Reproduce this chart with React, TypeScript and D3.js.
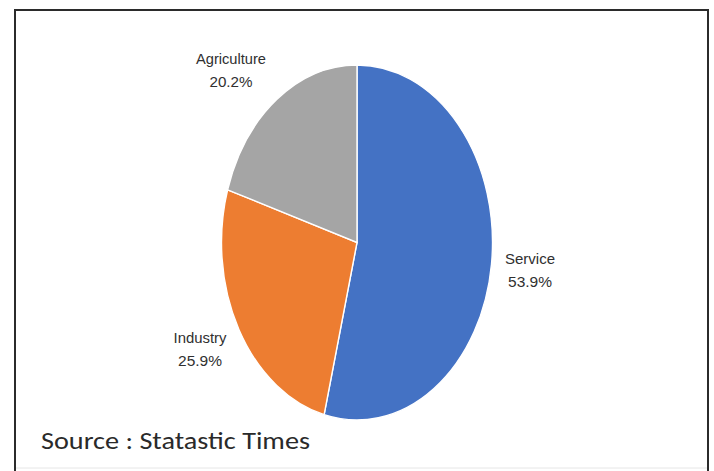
import React from "react";
import * as d3 from "d3";

const categories = ["Service", "Industry", "Agriculture"];
const values = [53.9, 25.9, 20.2];
const colors = ["#4472C4", "#ED7D31", "#A5A5A5"];
const labelTexts = ["53.9%", "25.9%", "20.2%"];
const sourceText = "Source : Statastic Times";

const W = 714;
const H = 471;

export default function App() {
  const cx = 357;
  const cy = 242.5;
  const rx = 135.5;
  const ry = 177.5;
  const sy = ry / rx;

  const pie = d3.pie<number>().sort(null).value((d) => d);
  const arcs = pie(values);
  const arc = d3.arc<d3.PieArcDatum<number>>().innerRadius(0).outerRadius(rx);

  const labelPos = [
    { x: 530, y: 264 },
    { x: 200, y: 343 },
    { x: 231, y: 64 },
  ];
  const nameWidths = [50, 53, 70];
  const pctWidths = [44, 44, 43];

  return (
    <div style={{ position: "absolute", left: 0, top: 0 }}>
      <svg width={W} height={H} style={{ display: "block" }}>
        <rect x={0} y={0} width={W} height={H} fill="#ffffff" />
        <rect x={15} y={10} width={693} height={470} fill="#ffffff" stroke="#2b2b2b" strokeWidth={2} />
        <line x1={16} x2={707} y1={468} y2={468} stroke="#e6e6e6" strokeWidth={1} />
        <g transform={`translate(${cx},${cy}) scale(1,${sy})`}>
          {arcs.map((a, i) => (
            <path
              key={categories[i]}
              d={arc(a) as string}
              fill={colors[i]}
              stroke="#ffffff"
              strokeWidth={1.4}
              vectorEffect="non-scaling-stroke"
            />
          ))}
        </g>
        {categories.map((c, i) => (
          <g key={c} fill="#303030" fontFamily="'Liberation Sans Narrow', 'Liberation Sans', Arial, sans-serif" fontSize={14.5} textAnchor="middle">
            <text x={labelPos[i].x} y={labelPos[i].y} textLength={nameWidths[i]} lengthAdjust="spacingAndGlyphs">
              {c}
            </text>
            <text x={labelPos[i].x} y={labelPos[i].y + 23} textLength={pctWidths[i]} lengthAdjust="spacingAndGlyphs">
              {labelTexts[i]}
            </text>
          </g>
        ))}
        <text
          x={41}
          y={449}
          fill="#2a2a2a"
          fontFamily="Carlito, Lato, 'Liberation Sans', sans-serif"
          fontSize={24}
          textLength={269}
          lengthAdjust="spacingAndGlyphs"
        >
          {sourceText}
        </text>
      </svg>
    </div>
  );
}
